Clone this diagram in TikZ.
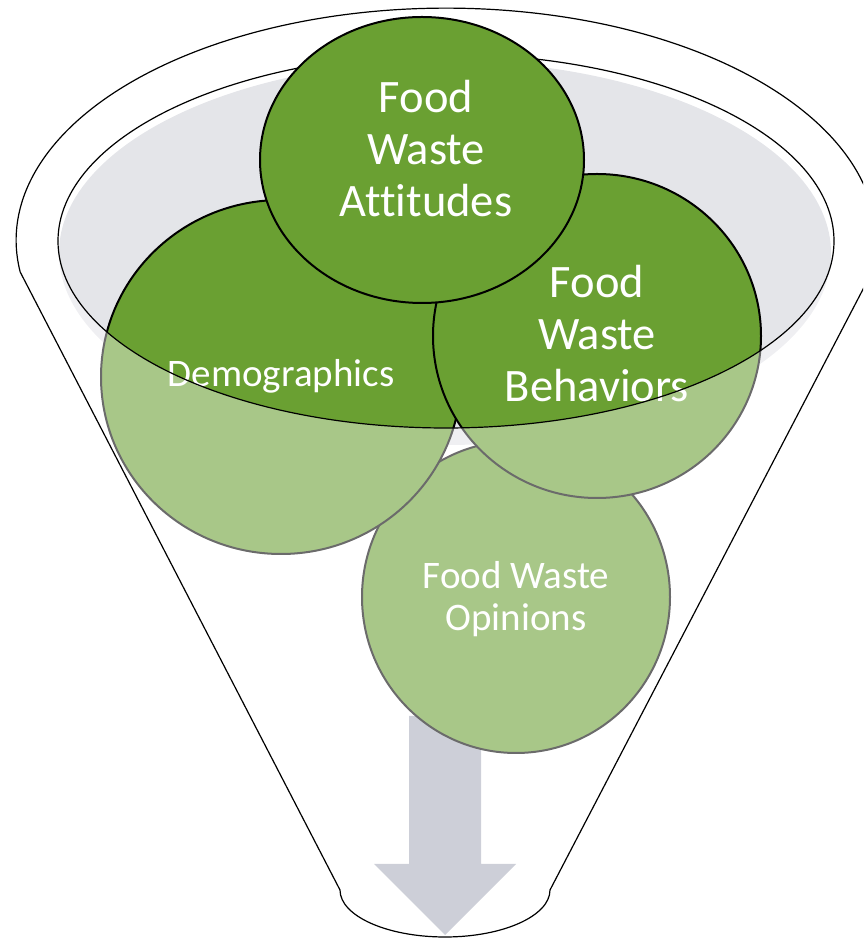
\documentclass[tikz,border=0pt]{standalone}
\usepackage{fontspec}
\setmainfont[Ligatures=NoCommon]{Carlito}
\definecolor{leafgreen}{RGB}{106,160,50}
\definecolor{mouthgrey}{RGB}{228,229,233}
\definecolor{spoutgrey}{RGB}{169,174,188}
\begin{document}
\begin{tikzpicture}[x=1pt,y=1pt,
  greenball/.style={draw=black, line width=2pt, fill=leafgreen},
  rimline/.style={draw=black, line width=1.2pt},
  frontface/.style={fill=white, fill opacity=0.42},
  bigtext/.style={text=white, align=center, inner sep=0pt, font=\fontsize{46.5}{52}\selectfont},
  smalltext/.style={text=white, align=center, inner sep=0pt, font=\fontsize{39}{42}\selectfont}]
\useasboundingbox (0,0) rectangle (863,940);
\clip (0,0) rectangle (863,940);

% inside of the funnel mouth and the back half of its rim
\fill[mouthgrey] (445,687) ellipse [x radius=386, y radius=192];
\draw[rimline] (58,699) arc[start angle=180, end angle=0, x radius=388, y radius=187];

% outflow arrow through the spout
\fill[spoutgrey] (409,224) -- (481,224) -- (481,76) -- (516,76) -- (445,5)
  -- (374,76) -- (409,76) -- cycle;

% the four balls, back to front
\draw[greenball] (516,343) ellipse [x radius=154, y radius=156];
\draw[greenball] (281,563) ellipse [x radius=180, y radius=177];
\draw[greenball] (597,604) ellipse [x radius=164, y radius=162];
\draw[greenball] (422,780) ellipse [x radius=162, y radius=143];

% translucent front wall of the funnel, below the rim
\path[frontface] (0,699) -- (58,699)
  arc[start angle=180, end angle=360, x radius=388, y radius=187]
  -- (863,699) -- (863,0) -- (0,0) -- cycle;

% labels
\node[bigtext] (attitudes) at (426,791) {Food\\Waste\\Attitudes};
\node[bigtext] (behaviors) at (597,606) {Food\\Waste\\Behaviors};
\node[smalltext, anchor=base] (demographics) at (281,553) {Demographics};
\node[smalltext] (opinions) at (516,341) {Food Waste\\Opinions};

% front half of the rim
\draw[rimline] (58,699) arc[start angle=180, end angle=360, x radius=388, y radius=187];

% funnel outline: top lip, sides and spout
\draw[rimline] (872,668)
  arc[start angle=-7.9, end angle=187.9, x radius=430, y radius=232]
  -- (340,50)
  arc[start angle=180, end angle=360, x radius=105, y radius=47]
  -- cycle;
\end{tikzpicture}
\end{document}
